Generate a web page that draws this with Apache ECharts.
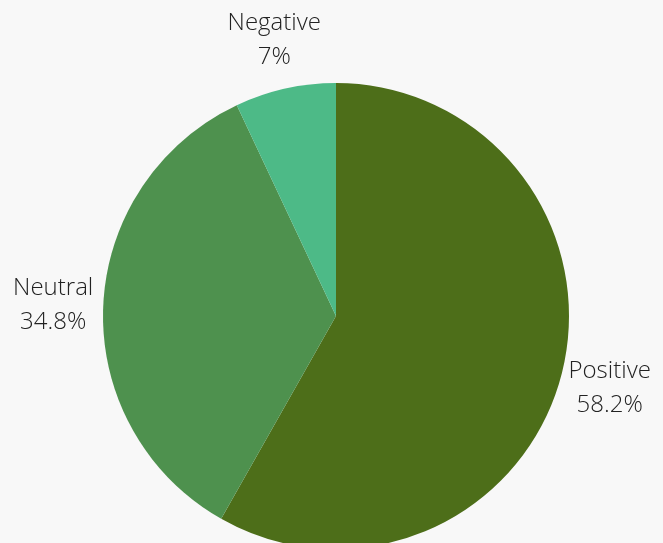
<!DOCTYPE html>
<html>
<head>
<meta charset="utf-8">
<script src="https://cdn.jsdelivr.net/npm/echarts@6/dist/echarts.min.js"></script>
<style>
  html, body { margin: 0; padding: 0; background: #f8f8f8; }
  #chart { width: 663px; height: 543px; }
</style>
</head>
<body>
<div id="chart"></div>
<script>
// Sentiment shares, drawn clockwise from twelve o'clock
const categories = ['Positive', 'Neutral', 'Negative'];
const shares = [58.2, 34.8, 7];
const sliceColors = ['#4d6e19', '#4e914e', '#4dba87'];

const cx = 336, cy = 316, radius = 233, labelRadius = 283;

const total = shares.reduce((a, b) => a + b, 0);
// mid-angle of each slice (radians, clockwise from top)
const midAngles = [];
let acc = 0;
shares.forEach(v => {
  midAngles.push(((acc + v / 2) / total) * Math.PI * 2);
  acc += v;
});

const chart = echarts.init(document.getElementById('chart'), null, { renderer: 'canvas' });
chart.setOption({
  backgroundColor: '#f8f8f8',
  animation: false,
  series: [{
    type: 'pie',
    center: [cx, cy],
    radius: radius,
    startAngle: 90,
    clockwise: true,
    avoidLabelOverlap: false,
    data: categories.map((name, i) => ({
      name: name,
      value: shares[i],
      itemStyle: { color: sliceColors[i] }
    })),
    itemStyle: { borderWidth: 0 },
    emphasis: { disabled: true },
    label: {
      show: true,
      position: 'outside',
      formatter: p => p.name + '\n' + p.value + '%',
      fontFamily: 'Open Sans',
      fontWeight: 300,
      fontSize: 24,
      lineHeight: 34,
      color: '#222222',
      align: 'center'
    },
    labelLine: { show: false },
    labelLayout: params => {
      const a = midAngles[params.dataIndex];
      return {
        x: cx + labelRadius * Math.sin(a),
        y: cy - labelRadius * Math.cos(a),
        align: 'center',
        verticalAlign: 'middle'
      };
    }
  }]
});
</script>
</body>
</html>
